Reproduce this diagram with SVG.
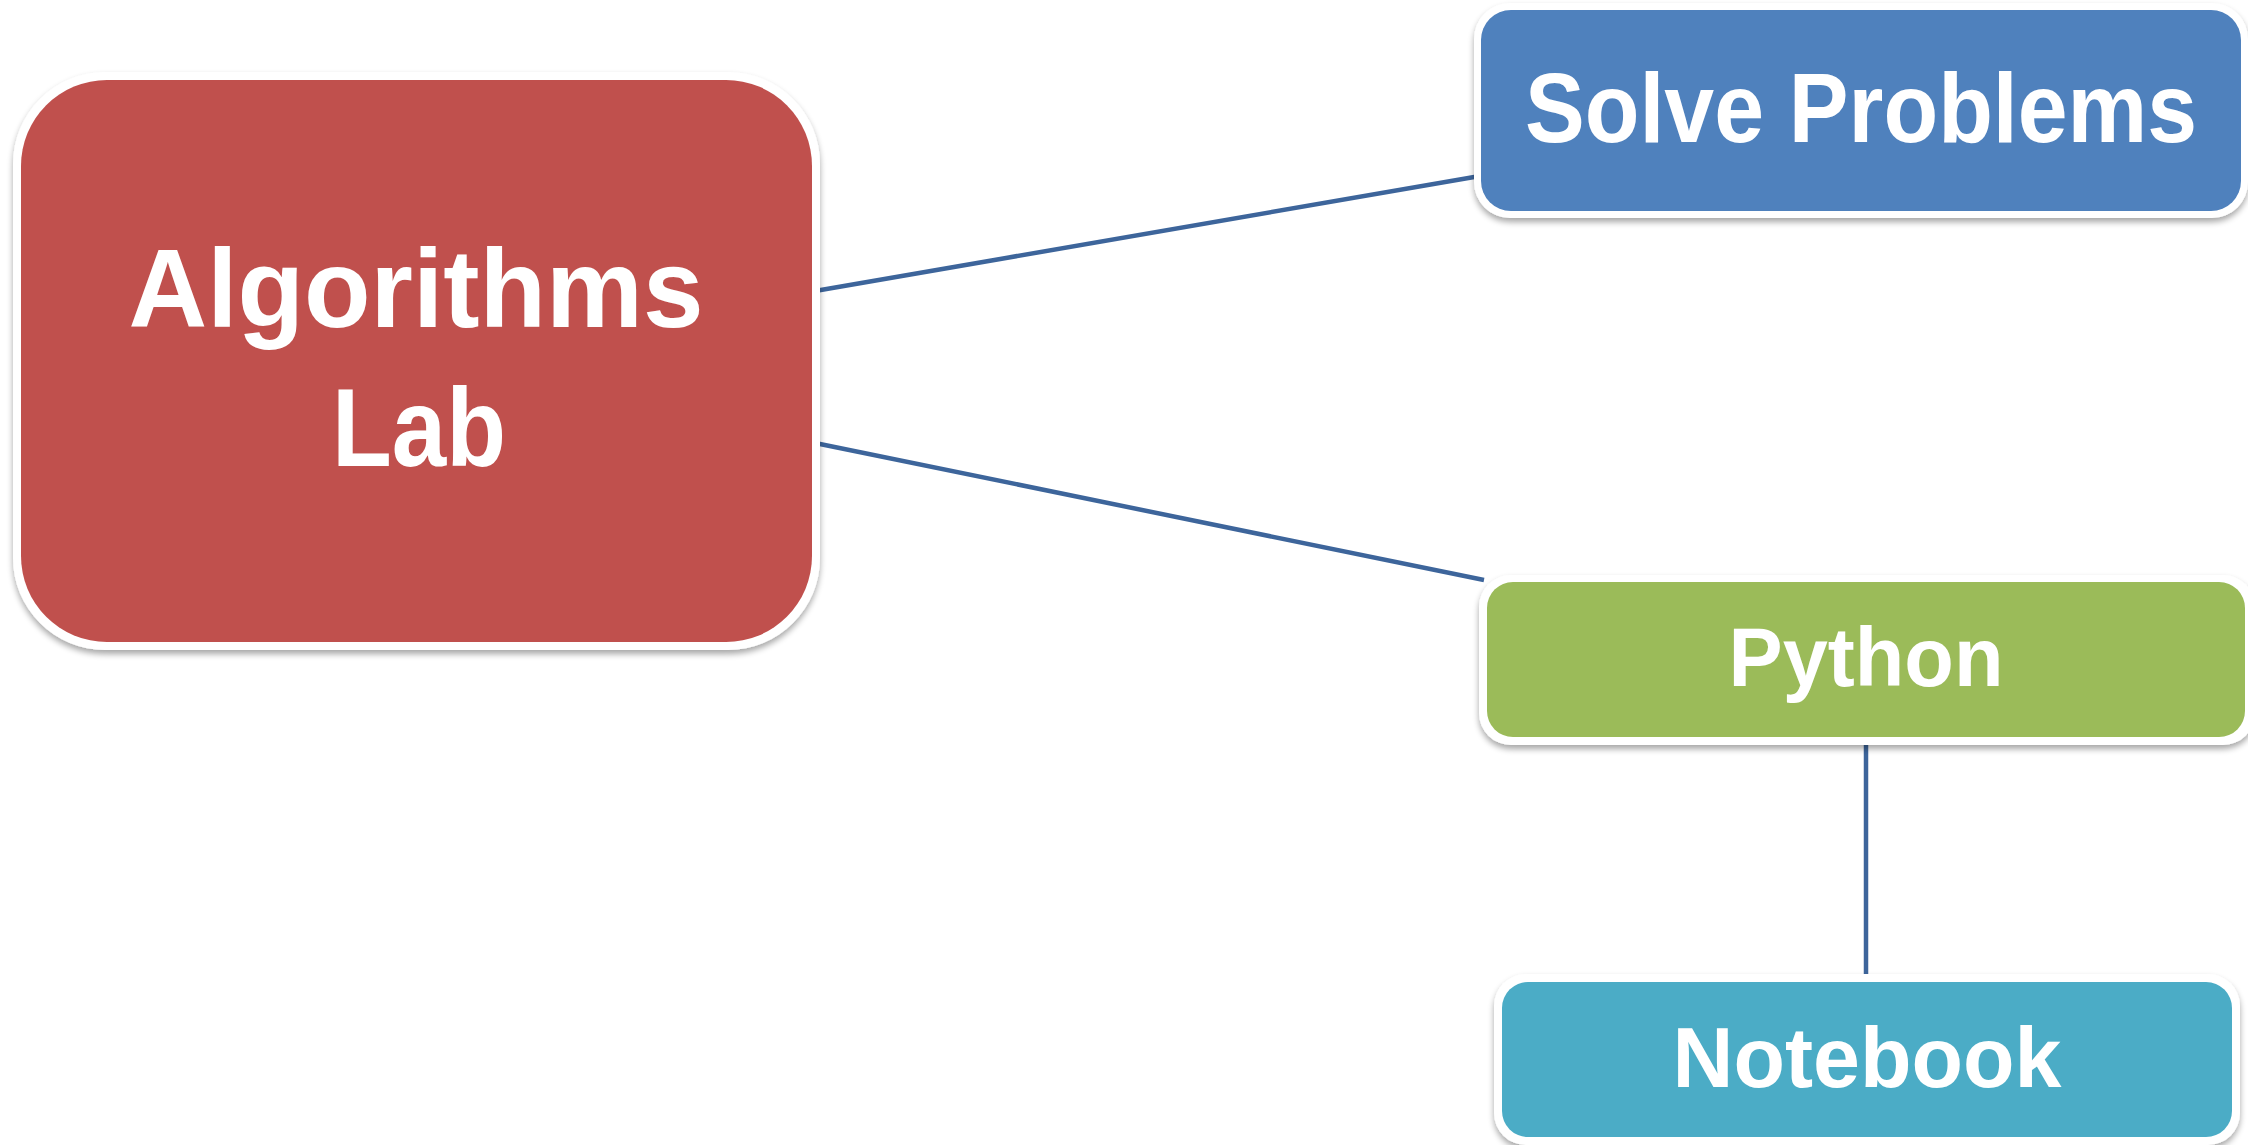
<svg xmlns="http://www.w3.org/2000/svg" width="2248" height="1145" viewBox="0 0 2248 1145">
  <defs>
    <filter id="shadow" x="-5%" y="-10%" width="110%" height="125%">
      <feGaussianBlur in="SourceAlpha" stdDeviation="3"/>
      <feOffset dx="0" dy="4" result="b"/>
      <feComponentTransfer><feFuncA type="linear" slope="0.35"/></feComponentTransfer>
      <feMerge><feMergeNode/><feMergeNode in="SourceGraphic"/></feMerge>
    </filter>
    <style>
      .rim { fill: #ffffff; filter: url(#shadow); }
      .label { font-family: "Liberation Sans", Arial, sans-serif; font-weight: bold; fill: #ffffff; text-anchor: middle; }
      .link { stroke: #3d659b; stroke-width: 4.5; fill: none; }
    </style>
  </defs>
  <rect width="2248" height="1145" fill="#ffffff"/>

  <g id="connectors">
    <line class="link" x1="815" y1="291" x2="1480" y2="176"/>
    <line class="link" x1="815" y1="443" x2="1484" y2="580"/>
    <line class="link" x1="1866" y1="740" x2="1866" y2="974"/>
  </g>

  <g id="algorithms-lab">
    <rect class="rim" x="13" y="72" width="807" height="578" rx="92"/>
    <rect x="21" y="80" width="791" height="562" rx="86" fill="#c0504d"/>
    <text class="label" x="416" y="327" font-size="112" textLength="575" lengthAdjust="spacingAndGlyphs">Algorithms</text>
    <text class="label" x="419" y="466" font-size="112" textLength="174" lengthAdjust="spacingAndGlyphs">Lab</text>
  </g>

  <g id="solve-problems">
    <rect class="rim" x="1474" y="3" width="774" height="215" rx="36"/>
    <rect x="1481" y="10" width="760" height="201" rx="30" fill="#4f81bd"/>
    <text class="label" x="1861" y="142" font-size="98" textLength="672" lengthAdjust="spacingAndGlyphs">Solve Problems</text>
  </g>

  <g id="python">
    <rect class="rim" x="1479" y="575" width="776" height="170" rx="32"/>
    <rect x="1487" y="582" width="758" height="155" rx="26" fill="#9bbb59"/>
    <text class="label" x="1866" y="686" font-size="84" textLength="275" lengthAdjust="spacingAndGlyphs">Python</text>
  </g>

  <g id="notebook">
    <rect class="rim" x="1494" y="974" width="746" height="171" rx="32"/>
    <rect x="1502" y="982" width="730" height="155" rx="26" fill="#4bacc6"/>
    <text class="label" x="1867" y="1087" font-size="85" textLength="389" lengthAdjust="spacingAndGlyphs">Notebook</text>
  </g>
</svg>
